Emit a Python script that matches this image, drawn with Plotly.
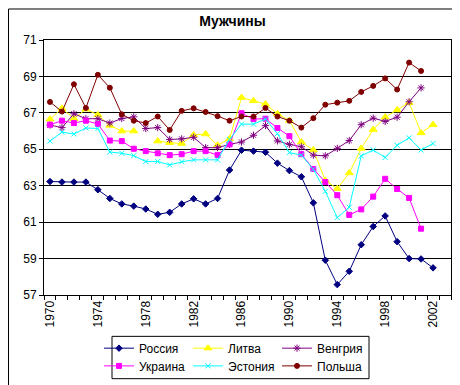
import plotly.graph_objects as go

years = list(range(1970, 2003))

russia = [63.23, 63.2, 63.2, 63.2, 62.78, 62.3, 62.0, 61.88, 61.72, 61.43,
          61.54, 62.0, 62.28, 62.0, 62.3, 63.86, 64.95, 64.9, 64.84, 64.24,
          63.83, 63.49, 62.06, 58.91, 57.57, 58.3, 59.76, 60.76, 61.34, 59.93,
          59.0, 58.98, 58.49]
lithuania = [66.65, 67.25, 66.68, 67.2, 66.89, 66.31, 66.0, 66.0, None, 65.45,
             65.36, 65.32, 65.79, 65.84, 65.22, 65.57, 67.84, 67.66, 67.48, 66.95,
             66.58, 65.4, 64.96, 63.29, 62.84, 63.7, 65.05, 66.08, 66.76, 67.16,
             67.56, 65.9, 66.35]
hungary = [66.33, 66.19, 66.95, 66.68, 66.68, 66.44, 66.69, 66.78, 66.14, 66.19,
           65.54, 65.57, 65.66, 65.09, 65.09, 65.27, 65.4, 65.77, 66.3, 65.46,
           65.27, 65.14, 64.68, 64.64, 65.05, 65.48, 66.35, 66.71, 66.53, 66.76,
           67.61, 68.37, None]
ukraine = [66.35, 66.57, 66.44, 66.57, 66.39, 65.48, 65.45, 65.03, 64.9, 64.78,
           64.68, 64.73, 64.9, 64.9, 64.68, 65.27, 66.98, 66.66, 66.68, 66.17,
           65.72, 64.73, 63.92, 63.2, 62.48, 61.4, 61.7, 62.4, 63.38, 62.82,
           62.33, 60.64, None]
estonia = [65.45, 65.94, 65.84, 66.17, 66.14, 64.85, 64.78, 64.65, 64.33, 64.33,
           64.14, 64.31, 64.42, 64.42, 64.42, 65.54, 66.38, 66.38, 66.66, 65.86,
           64.82, 64.68, 63.9, 62.69, 61.25, 61.82, 64.64, 64.96, 64.55, 65.22,
           65.63, 64.96, 65.32]
poland = [67.6, 67.07, 68.57, 67.27, 69.09, 68.38, 66.92, 66.57, 66.44, 66.8,
          66.06, 67.11, 67.25, 67.05, 66.82, 66.57, 66.8, 66.8, 67.27, 66.8,
          66.57, 66.19, 66.71, 67.45, 67.56, 67.66, 68.15, 68.48, 68.89, 68.28,
          69.76, 69.3, None]

x_tick_vals = [1970, 1974, 1978, 1982, 1986, 1990, 1994, 1998, 2002]
y_tick_vals = [57, 59, 61, 63, 65, 67, 69, 71]

series = [
    ("Россия", russia, "#000080", "diamond", 5, "legend"),
    ("Литва", lithuania, "#FFFF00", "triangle-up", 7, "legend"),
    ("Венгрия", hungary, "#800080", "asterisk-open", 6, "legend"),
    ("Украина", ukraine, "#FF00FF", "square", 5, "legend2"),
    ("Эстония", estonia, "#00FFFF", "x-thin-open", 5, "legend2"),
    ("Польша", poland, "#800000", "circle", 5, "legend2"),
]

fig = go.Figure()
for name, vals, color, sym, size, lg in series:
    fig.add_trace(go.Scatter(
        x=years, y=vals, name=name, mode="lines+markers",
        line=dict(color=color, width=1),
        marker=dict(symbol=sym, size=size, color=color,
                    line=dict(color=color, width=1)),
        connectgaps=False, legend=lg,
    ))

font = "Liberation Sans, Arial, sans-serif"
W, H = 460, 385
L, R, T, B = 36, 17, 32, 94
pw, ph = W - L - R, H - T - B

def px(xp):
    return (xp - L) / pw

def py(yp):
    return (H - B - yp) / ph

legend_common = dict(orientation="h", xanchor="left", yanchor="middle",
                     entrywidth=44, entrywidthmode="pixels",
                     bgcolor="rgba(0,0,0,0)", borderwidth=0,
                     font=dict(family=font, size=12, color="black"))

fig.update_layout(
    width=W, height=H,
    margin=dict(l=L, r=R, t=T, b=B),
    paper_bgcolor="white", plot_bgcolor="white",
    font=dict(family=font, size=12, color="black"),
    title=dict(text="<b>Мужчины</b>", x=224.5 / W, xref="container", xanchor="center",
               y=1 - 13 / H, yref="container", yanchor="middle",
               font=dict(family=font, size=14, color="black")),
    xaxis=dict(range=[1969.5, 2003.5], tickmode="array", tickvals=x_tick_vals,
               ticktext=[str(v) for v in x_tick_vals], tickangle=-90,
               ticks="", showgrid=False, zeroline=False,
               showline=True, linecolor="black", linewidth=1, mirror=True,
               minor=dict(tickmode="linear", tick0=1969.5, dtick=1,
                          ticks="outside", ticklen=4, tickcolor="black",
                          showgrid=False),
               tickfont=dict(family=font, size=12, color="black")),
    yaxis=dict(range=[57, 71], tickmode="array", tickvals=y_tick_vals,
               ticks="outside", ticklen=4, tickcolor="black",
               showgrid=True, gridcolor="black", gridwidth=1, zeroline=False,
               showline=True, linecolor="black", linewidth=1, mirror=True,
               tickfont=dict(family=font, size=12, color="black")),
    legend=dict(legend_common, x=px(91), y=py(345)),
    legend2=dict(legend_common, x=px(91), y=py(363)),
    shapes=[
        dict(type="rect", xref="paper", yref="paper",
             x0=px(104), x1=px(361), y0=py(376), y1=py(333),
             line=dict(color="black", width=1), fillcolor="rgba(0,0,0,0)"),
        dict(type="rect", xref="paper", yref="paper",
             x0=px(0.5), x1=px(457.5), y0=py(383.5), y1=py(0.5),
             line=dict(color="black", width=1), fillcolor="rgba(0,0,0,0)"),
    ],
)

fig.write_html("out.html")
